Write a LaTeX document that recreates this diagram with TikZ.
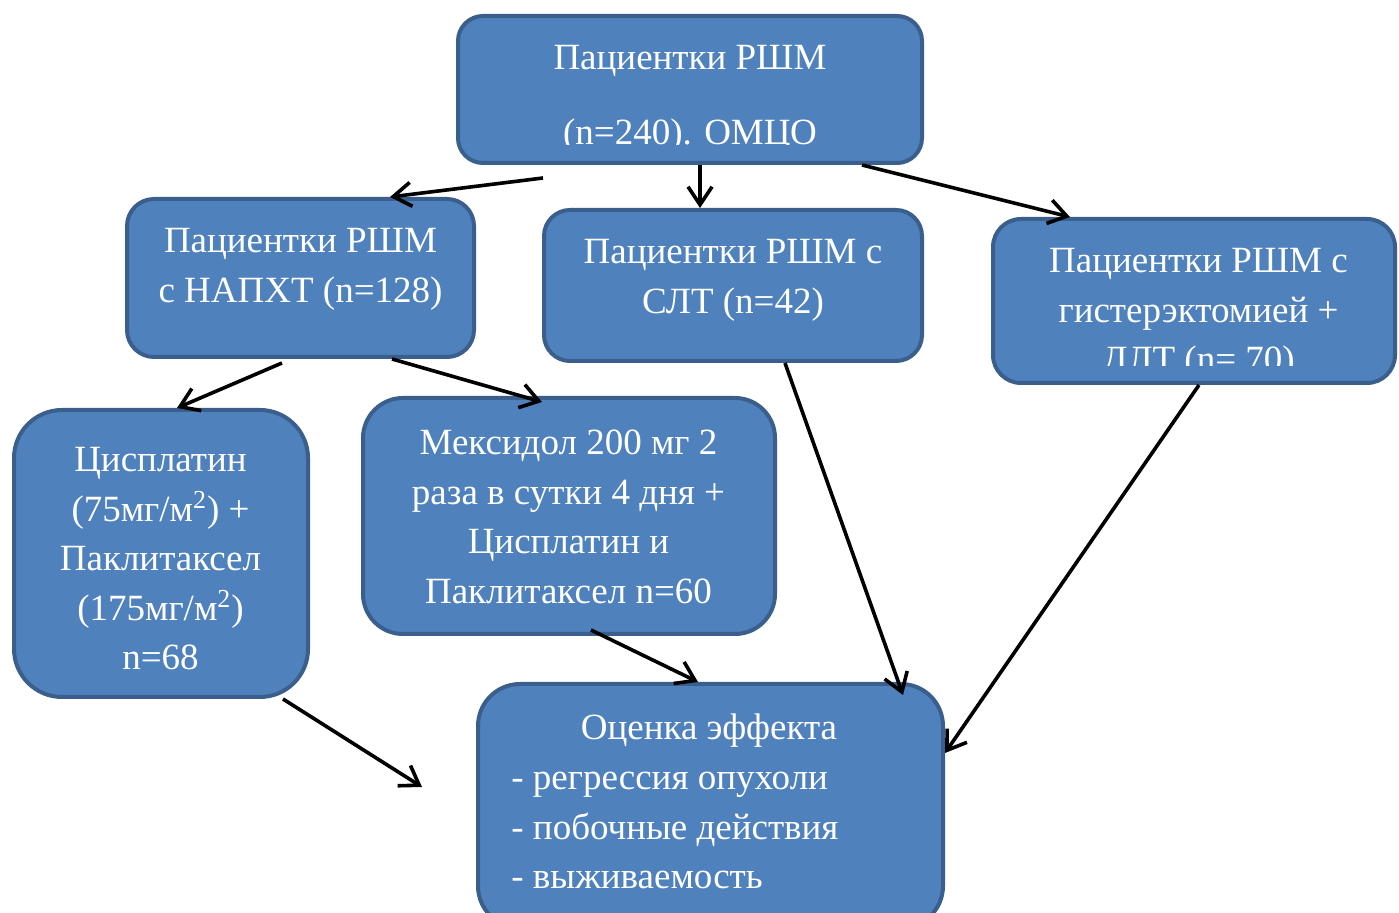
\documentclass[tikz,border=0pt]{standalone}
\usepackage{fontspec}
\setmainfont{Liberation Serif}
\usetikzlibrary{arrows.meta}
\definecolor{boxfill}{HTML}{4F81BD}
\definecolor{boxline}{HTML}{3A5F8C}
\tikzset{
  box/.style={draw=boxline,fill=boxfill,line width=2pt,rounded corners=#1,inner sep=0pt},
  box/.default=13pt,
  txt/.style={text=white,align=center,anchor=base,inner sep=0pt,font=\fontsize{18.5}{24.75}\selectfont},
  arr/.style={line width=1.8pt,-{Straight Barb[length=9pt,width=12pt]}}
}
\begin{document}
\begin{tikzpicture}[x=0.5pt,y=-0.5pt]
\useasboundingbox (0,0) rectangle (1399,913);

\node[box=12.5pt,minimum width=232pt,minimum height=73.5pt] (top) at (690,89.5) {};
\node[box=13.5pt,minimum width=173.5pt,minimum height=79pt] (napht) at (300.5,278) {};
\node[box=13pt,minimum width=189pt,minimum height=75.5pt] (slt) at (733,285.5) {};
\node[box=14pt,minimum width=201pt,minimum height=82pt] (hyst) at (1194,301) {};
\node[box=24pt,minimum width=147pt,minimum height=143.5pt] (cispl) at (161,553.5) {};
\node[box=20pt,minimum width=206pt,minimum height=118pt] (mexi) at (569,516) {};
\node[box=21pt,minimum width=232.5pt,minimum height=122pt] (eval) at (710.5,806) {};

% texts: base = baseline of the last line
\begin{scope}
\clip (456,14) rectangle (924,145);
\node[txt] (top-txt) at (690,144.5) {Пациентки РШМ\\[12.5pt](n=240). ОМЦО};
\end{scope}
\node[txt] (napht-txt) at (300.5,302.5) {Пациентки РШМ\\с НАПХТ (n=128)};
\node[txt] (slt-txt) at (733,313.5) {Пациентки РШМ с\\СЛТ (n=42)};
\begin{scope}
\clip (991,217) rectangle (1399,366);
\node[txt] (hyst-txt) at (1198.5,372) {Пациентки РШМ с\\гистерэктомией +\\ДЛТ (n= 70)};
\end{scope}
\node[txt] (cispl-txt) at (160.5,670) {Цисплатин\\(75мг/м\textsuperscript{2}) +\\Паклитаксел\\(175мг/м\textsuperscript{2})\\n=68};
\node[txt] (mexi-txt) at (568.5,603.5) {Мексидол 200 мг 2\\раза в сутки 4 дня +\\Цисплатин и\\Паклитаксел n=60};
\node[txt] (eval-title) at (709,740) {Оценка эффекта};
\node[txt,align=left,anchor=base west] (eval-list) at (511,889) {- регрессия опухоли\\- побочные действия\\- выживаемость};

\coordinate (cispl-end) at (422,787);

\draw[arr] ([shift={(-73.5pt,-6.5pt)}]top.south) -- ([xshift=44.75pt]napht.north);
\draw[arr] ([xshift=5pt]top.south) -- ([xshift=5pt]top.south |- slt.north);
\draw[arr] ([xshift=86pt]top.south) -- ([xshift=-62pt]hyst.north);
\draw[arr] ([shift={(-9.25pt,-2pt)}]napht.south) -- ([xshift=8pt]cispl.north);
\draw[arr] ([xshift=45.75pt]napht.south) -- ([shift={(-13.5pt,-3pt)}]mexi.north);
\draw[arr] ([xshift=26pt]slt.south) -- ([shift={(96.25pt,-6.5pt)}]eval.north);
\draw[arr] ([xshift=2.5pt]hyst.south) -- ([yshift=-35.5pt]eval.north east);
\draw[arr] ([shift={(11pt,3pt)}]mexi.south) -- ([xshift=-6.25pt]eval.north);
\draw[arr] ([xshift=61pt]cispl.south) -- (cispl-end);
\end{tikzpicture}
\end{document}
